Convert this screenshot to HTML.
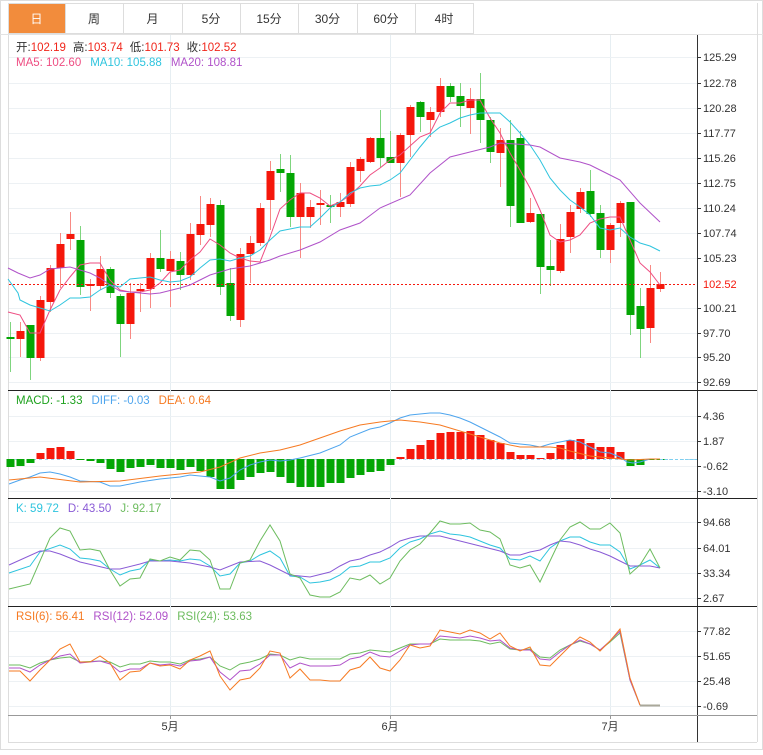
<!DOCTYPE html>
<html><head><meta charset="utf-8">
<style>
body{margin:0;background:#fff;font-family:"Liberation Sans","Noto Sans CJK SC",sans-serif;}
svg text{font-family:"Liberation Sans","Noto Sans CJK SC",sans-serif;}
</style></head>
<body>
<svg id="s" width="763" height="750" xmlns="http://www.w3.org/2000/svg">
<rect x="0.5" y="0.5" width="762" height="749" fill="#fff" stroke="#ddd"/>
<g id="tabs"></g>
<g id="grid" stroke="#e8eef3" stroke-width="1"></g>
<g id="main"></g>
</svg>
<script>
var s=document.getElementById('s');
var NS='http://www.w3.org/2000/svg';
function el(t,a,txt,p){var e=document.createElementNS(NS,t);for(var k in a)e.setAttribute(k,a[k]);if(txt!=null)e.textContent=txt;(p||s).appendChild(e);return e;}
// tabs
var tabs=['日','周','月','5分','15分','30分','60分','4时'];
var tx=[8,65,123,182,240,298,357,415,473];
for(var i=0;i<8;i++){
 el('rect',{x:tx[i]+0.5,y:3.5,width:tx[i+1]-tx[i],height:30,fill:i==0?'#f28c3c':'#fff',stroke:'#ddd'});
 el('text',{x:(tx[i]+tx[i+1])/2,y:23,'font-size':12,'text-anchor':'middle',fill:i==0?'#fff':'#333'},tabs[i]);
}
el('line',{x1:0,y1:34.5,x2:763,y2:34.5,stroke:'#e3e3e3'});
// frame
el('line',{x1:8.5,y1:35,x2:8.5,y2:742,stroke:'#ddd'});
el('line',{x1:697.5,y1:35,x2:697.5,y2:742,stroke:'#333'});
el('line',{x1:757.5,y1:3,x2:757.5,y2:742,stroke:'#ddd'});
el('line',{x1:8,y1:742.5,x2:757,y2:742.5,stroke:'#ddd'});
[390,498,606].forEach(function(y){el('line',{x1:8,y1:y+0.5,x2:757,y2:y+0.5,stroke:'#222'});});
el('line',{x1:8,y1:715.5,x2:757,y2:715.5,stroke:'#999'});
// vertical grid
[170,390,610].forEach(function(x){el('line',{x1:x+0.5,y1:35,x2:x+0.5,y2:715,stroke:'#e6eef2'});});
// y labels
function ylab(arr){arr.forEach(function(a){el('line',{x1:9,y1:a[1]+0.5,x2:697,y2:a[1]+0.5,stroke:'#edf1f4'});el('line',{x1:697,y1:a[1]+0.5,x2:701,y2:a[1]+0.5,stroke:'#333'});el('text',{x:703,y:a[1]+4,'font-size':11,fill:'#333'},a[0]);});}
ylab([['125.29',57],['122.78',83],['120.28',108],['117.77',133],['115.26',158],['112.75',183],['110.24',208],['107.74',233],['105.23',258],['100.21',308],['97.70',333],['95.20',357],['92.69',382]]);
ylab([['4.36',416],['1.87',441],['-0.62',466],['-3.10',491]]);
ylab([['94.68',522],['64.01',548],['33.34',573],['2.67',598]]);
ylab([['77.82',631],['51.65',656],['25.48',681],['-0.69',706]]);
// x labels
[['5月',170],['6月',390],['7月',610]].forEach(function(a){el('line',{x1:a[1]+0.5,y1:715,x2:a[1]+0.5,y2:719,stroke:'#999'});el('text',{x:a[1],y:730,'font-size':11,'text-anchor':'middle',fill:'#333'},a[0]);});
// legends
function leg(y,items){var g=el('text',{x:16,y:y,'font-size':11.5});items.forEach(function(it){el('tspan',{fill:it[1],dx:it[2]||0},it[0],g);});}
leg(51,[['开:','#333'],['102.19','#f0261b'],['高:','#333',7],['103.74','#f0261b'],['低:','#333',7],['101.73','#f0261b'],['收:','#333',7],['102.52','#f0261b']]);
leg(66,[['MA5: 102.60','#ee4d82'],['MA10: 105.88','#2ec4de',9],['MA20: 108.81','#b052c9',9]]);
leg(404,[['MACD: -1.33','#1ea21e'],['DIFF: -0.03','#4ea5ee',9],['DEA: 0.64','#f67a22',9]]);
leg(512,[['K: 59.72','#2ec4de'],['D: 43.50','#8a5bd6',9],['J: 92.17','#6dbc5f',9]]);
leg(620,[['RSI(6): 56.41','#f67a22'],['RSI(12): 52.09','#b052c9',9],['RSI(24): 53.63','#6dbc5f',9]]);
// candles
var C=[[337,339,322,372,'g'],[331,339,322,357,'r'],[325,358,325,380,'g'],[300,358,296,361,'r'],[268,302,265,312,'r'],[244,268,233,288,'r'],[234,239,212,250,'r'],[240,287,226,295,'g'],[284,286,279,311,'r'],[269,286,256,290,'r'],[269,293,267,298,'g'],[296,324,294,357,'g'],[293,324,283,339,'r'],[289,291,283,312,'r'],[258,289,253,308,'r'],[258,269,230,272,'g'],[259,271,251,307,'r'],[261,275,252,290,'g'],[234,275,223,280,'r'],[224,235,196,245,'r'],[204,225,198,237,'r'],[205,287,200,295,'g'],[283,316,268,321,'g'],[254,320,248,327,'r'],[243,254,236,283,'r'],[208,243,203,246,'r'],[171,200,161,230,'r'],[169,173,154,192,'g'],[173,217,155,227,'g'],[193,217,183,258,'r'],[207,217,200,228,'r'],[203,205,190,225,'r'],[205,207,195,223,'g'],[202,207,193,217,'r'],[167,204,162,207,'r'],[159,171,157,182,'r'],[138,162,137,163,'r'],[138,158,110,168,'g'],[157,163,131,163,'g'],[135,163,133,197,'r'],[107,135,105,157,'r'],[102,117,101,132,'g'],[112,120,107,137,'r'],[86,112,78,117,'r'],[86,97,83,102,'g'],[96,106,83,127,'g'],[99,108,88,134,'r'],[99,120,73,143,'g'],[120,152,117,163,'g'],[140,153,128,187,'r'],[140,206,120,227,'g'],[138,223,131,223,'g'],[213,222,198,223,'r'],[214,267,214,294,'g'],[266,270,240,286,'g'],[239,271,224,273,'r'],[212,237,205,253,'r'],[192,209,188,213,'r'],[191,214,170,217,'g'],[213,250,205,258,'g'],[225,250,223,263,'r'],[203,223,201,237,'r'],[202,315,202,335,'g'],[306,329,288,358,'g'],[288,328,265,343,'r'],[284,289,272,292,'r']];
var RED='#f5170b',GRN='#04a604';
C.forEach(function(c,i){var x=10+10*i;var col=c[4]=='r'?RED:GRN;var wc=c[4]=='r'?'#f88a84':'#7fd57f';
 el('line',{x1:x+0.5,y1:c[2],x2:x+0.5,y2:c[3],stroke:wc});
 el('rect',{x:x-3.5,y:c[0],width:8,height:Math.max(1.5,c[1]-c[0]),fill:col});});
// current price line
el('line',{x1:9,y1:284.5,x2:697,y2:284.5,stroke:'#f5170b','stroke-dasharray':'2,2'});
el('text',{x:703,y:288,'font-size':11,fill:'#f5170b'},'102.52');
function pl(pts,col,w,dash){var a={points:pts,fill:'none',stroke:col,'stroke-width':w||1};if(dash)a['stroke-dasharray']=dash;el('polyline',a);}
pl('8,312 20,315 30,333 40,333 50,310 60,290 70,277 80,265 90,263 100,263 110,280 120,290 130,292 140,292 150,290 160,283 170,272 180,270 190,260 200,252 210,239 220,245 230,253 240,258 250,261 260,262 270,237 280,209 290,200 300,193 310,193 320,198 330,206 340,202 350,195 360,186 370,175 380,168 390,160 400,155 410,146 420,137 430,133 440,113 450,103 460,103 470,100 480,100 490,118 500,133 510,153 520,170 530,188 540,210 550,235 560,242 570,240 580,235 590,223 600,219 610,217 620,217 630,240 640,263 650,272 660,285','#ee4d82');
pl('8,279 18,293 20,300 30,305 40,308 50,311 60,305 70,298 80,298 90,297 100,290 110,285 120,287 130,279 140,278 150,277 160,280 170,282 180,281 190,277 200,268 210,260 220,259 230,261 240,258 250,256 260,250 270,240 280,231 290,229 300,227 310,227 320,218 330,208 340,202 350,193 360,188 370,186 380,185 390,180 400,173 410,160 420,147 430,135 440,127 450,123 460,118 470,115 480,113 490,113 500,113 510,122 520,133 530,145 540,160 550,178 560,190 570,200 580,207 590,215 600,228 610,230 620,228 630,237 640,243 650,246 660,251','#2ec4de');
pl('8,268 18,273 30,278 40,275 50,269 70,267 90,273 100,278 110,285 120,291 140,293 150,294 160,293 180,288 190,285 200,280 210,275 230,269 250,266 270,260 280,256 300,250 320,242 340,230 360,223 380,208 410,195 430,173 450,157 470,152 490,147 500,143 530,145 540,147 560,158 580,162 590,165 610,175 620,180 640,203 660,222','#b052c9');
// MACD
el('line',{x1:9,y1:459.5,x2:697,y2:459.5,stroke:'#9fd3ee','stroke-dasharray':'3,3'});
var H=[467,466,463,453,448,447,451,460,461,463,469,472,468,467,465,468,468,470,467,471,477,489,489,480,477,473,472,477,483,487,487,487,483,483,478,475,472,471,465,457,449,445,440,433,432,432,431,435,440,443,452,455,455,458,453,445,440,439,443,447,447,452,466,465,459,459];
H.forEach(function(y,i){var x=10+10*i;var t=Math.min(y,459),h=Math.abs(y-459);if(h<1)h=1;el('rect',{x:x-3.5,y:t,width:8,height:h,fill:y<459?RED:GRN});});
pl('9,484 20,480 30,477 40,473 50,472 60,474 70,477 80,481 100,482 110,486 120,486 140,482 160,479 180,477 190,475 200,476 210,477 220,481 230,478 240,470 250,465 260,462 270,460 280,461 290,460 300,458 320,453 340,445 350,437 370,429 380,427 390,423 400,418 410,415 420,414 430,413 440,413 450,415 460,418 470,422 480,427 490,432 500,437 510,443 520,444 530,445 540,447 550,444 560,442 570,440 580,442 590,447 600,452 610,453 620,457 627,462 633,463 640,462 650,459 660,459','#4ea5ee');
pl('9,480 40,477 80,482 120,481 160,476 200,472 220,467 240,458 260,453 280,450 300,445 320,438 340,431 360,425 380,422 400,420 420,422 440,425 460,431 480,437 500,443 520,447 540,447 550,447 560,448 570,451 590,456 610,458 630,460 650,459 660,459','#f67a22');
el('line',{x1:660,y1:459.5,x2:697,y2:459.5,stroke:'#7fd0f0','stroke-dasharray':'3,2'});
// KDJ
pl('9,573 30,566 40,552 60,545 70,549 80,558 90,559 100,561 110,569 120,575 130,571 140,569 150,560 160,561 170,560 180,561 190,559 200,560 210,566 220,576 230,574 240,563 250,561 260,555 270,551 280,558 290,576 300,577 310,583 320,582 330,580 340,575 350,567 360,566 370,562 380,562 390,558 400,548 410,542 420,539 430,534 440,531 450,534 460,535 470,537 480,541 490,545 500,548 510,559 520,560 530,556 540,561 550,548 560,541 570,537 580,537 590,542 600,545 610,545 620,552 630,569 640,565 650,560 660,568','#2ec4de');
pl('9,565 40,551 50,551 60,554 80,562 110,569 120,569 140,564 150,561 170,561 190,563 210,567 220,570 240,562 260,561 270,565 290,575 310,577 330,572 340,566 350,561 360,559 370,555 380,552 390,547 400,541 410,538 420,536 430,536 440,536 460,541 480,546 500,551 510,555 520,555 530,552 540,550 550,545 560,541 570,542 580,545 590,549 600,552 610,556 620,561 630,566 640,566 650,566 660,568','#8a5bd6');
pl('9,589 30,584 50,538 60,528 70,531 80,550 90,549 100,551 110,570 120,586 130,579 140,578 150,559 160,561 170,557 180,560 190,550 200,551 210,560 220,589 230,589 240,563 250,560 260,541 270,525 280,541 290,574 300,578 310,595 320,597 330,597 340,592 350,578 360,580 370,575 380,584 390,578 400,561 410,550 420,544 430,533 440,521 450,524 460,524 470,523 480,530 490,532 500,539 510,565 520,568 530,565 540,582 550,561 560,540 570,527 580,522 590,529 600,529 610,523 620,533 630,574 640,565 650,549 660,568','#6dbc5f');
// RSI
pl('9,665 20,665 30,668 40,663 50,660 60,658 70,657 80,662 100,661 110,662 120,667 130,664 140,664 150,661 160,662 170,662 180,664 190,660 200,659 210,657 220,666 230,670 240,664 250,662 260,659 270,654 280,655 290,660 300,657 310,659 330,659 340,659 350,654 360,653 370,650 380,651 390,652 400,648 410,644 420,644 430,644 440,639 450,640 460,640 470,640 480,641 490,644 500,642 510,649 520,650 530,649 540,657 550,658 560,650 570,645 580,641 590,644 600,650 610,642 620,633 630,680 640,705 660,705','#6dbc5f');
pl('9,668 20,668 30,672 40,665 50,660 60,656 70,654 80,663 100,661 110,664 120,672 130,669 140,669 150,663 160,665 170,664 180,666 190,661 200,660 210,657 220,672 230,680 240,671 250,670 260,664 270,655 280,655 290,668 300,663 310,666 330,666 340,665 350,659 360,657 370,652 380,656 390,657 400,651 410,645 420,644 430,644 440,636 450,637 460,638 470,636 480,638 490,641 500,640 510,648 520,650 530,650 540,659 550,660 560,652 570,645 580,640 590,644 600,650 610,641 620,631 630,680 640,705 660,705','#b052c9');
pl('9,671 20,671 30,681 40,670 50,660 60,649 70,644 80,662 90,662 100,656 110,663 120,680 130,672 140,671 150,663 160,666 170,665 180,669 190,660 200,656 210,651 220,676 230,690 240,680 250,678 260,668 270,651 280,653 290,678 300,669 310,680 320,680 330,681 340,681 350,670 360,667 370,657 380,668 390,671 400,660 410,645 420,648 430,646 440,630 450,632 460,634 470,630 480,633 490,639 500,633 510,646 520,651 530,647 540,665 550,666 560,656 570,646 580,637 590,642 600,651 610,641 620,629 630,678 640,705 660,705','#f67a22');
el('line',{x1:640,y1:705.5,x2:660,y2:705.5,stroke:'#aaa89a','stroke-width':2});
</script>
</body></html>
